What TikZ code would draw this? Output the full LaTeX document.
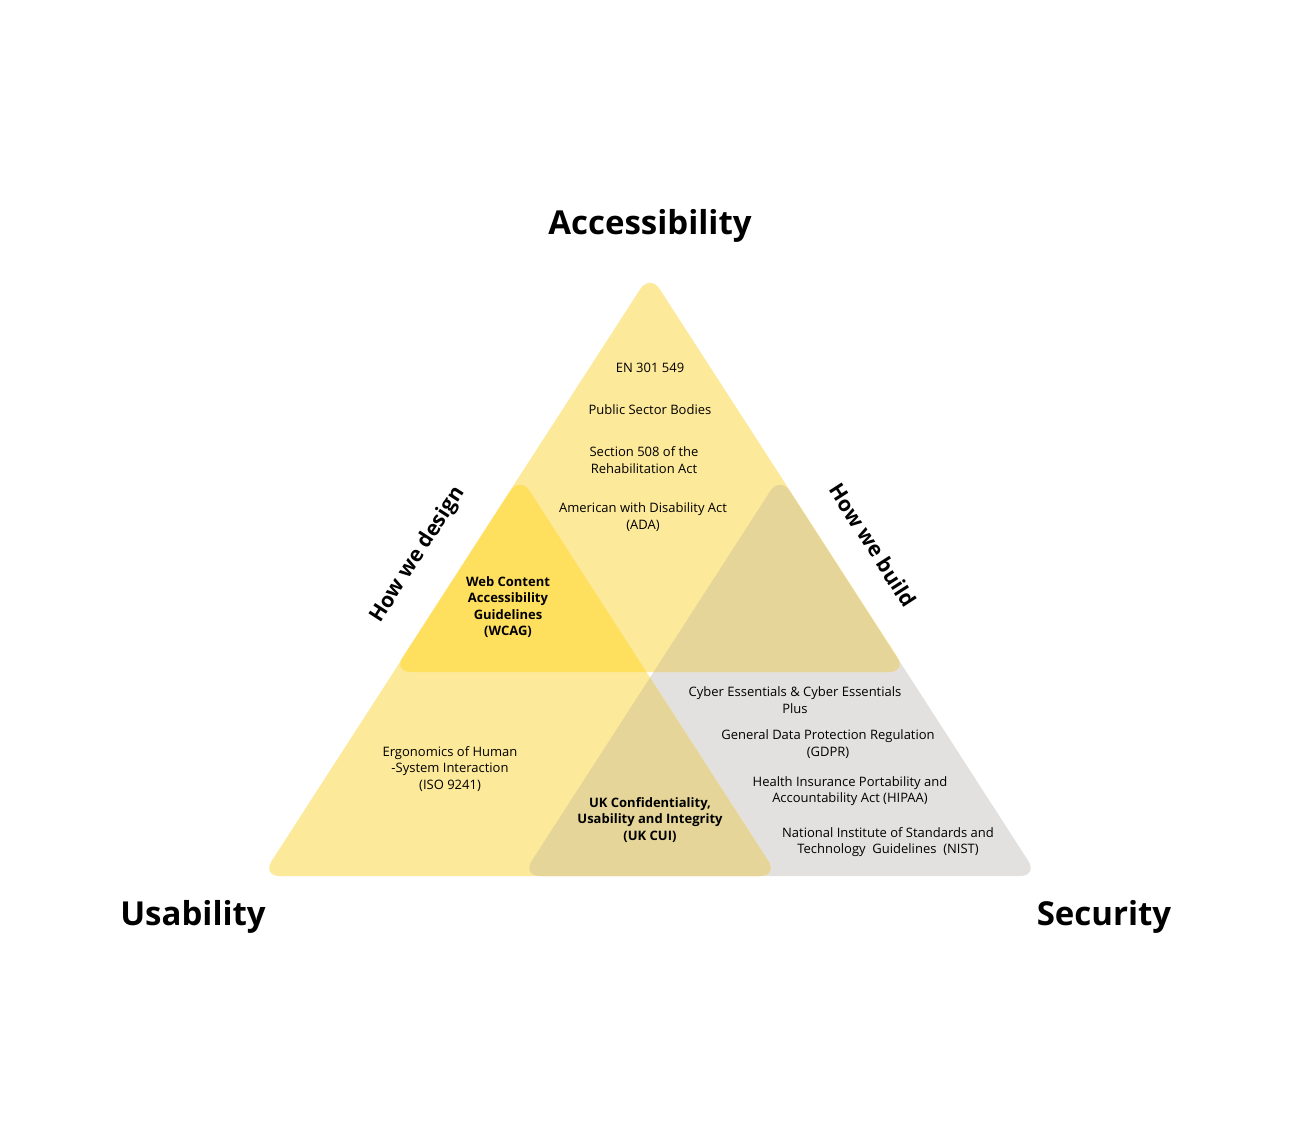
\documentclass[tikz,border=0pt]{standalone}
\usepackage{fontspec}
\setmainfont{Open Sans}
\begin{document}
\begin{tikzpicture}[x=1pt,y=-1pt,
  tri/.style={rounded corners=18pt},
  sm/.style={align=center,font=\fontsize{13}{16.5}\selectfont},
  smb/.style={sm,font=\fontsize{13}{16.5}\selectfont\bfseries},
  big/.style={font=\fontsize{33}{40}\selectfont\bfseries},
  side/.style={font=\fontsize{21}{26}\selectfont\bfseries}]
\useasboundingbox (0,0) rectangle (1300,1132);
\fill[white] (0,0) rectangle (1300,1132);
\definecolor{yel}{HTML}{FDE99A}
\definecolor{gry}{HTML}{E3E1DF}
\definecolor{brt}{HTML}{FFDF5E}
\definecolor{tan}{HTML}{E5D598}
\def\triA{(650,274) -- (907,672) -- (393,672) -- cycle}
\def\triU{(520,476) -- (778,876) -- (262,876) -- cycle}
\def\triS{(780,476) -- (1038,876) -- (522,876) -- cycle}
\fill[gry,tri] \triS;
\fill[yel,tri] \triU;
\fill[yel,tri] \triA;
\begin{scope}\clip[tri] \triA; \fill[brt,tri] \triU; \fill[tan,tri] \triS; \end{scope}
\begin{scope}\clip[tri] \triU; \fill[tan,tri] \triS; \end{scope}
\begin{scope}\clip[tri] \triA; \clip[tri] \triU; \fill[yel,tri] \triS; \end{scope}

\node[big] (acc) at (650,226) {Accessibility};
\node[big] (usa) at (193,917) {Usability};
\node[big] (sec) at (1104,917) {Security};
\node[side,rotate=57.2] (design) at (418,555) {How we design};
\node[side,rotate=-57.2] (build) at (873,545) {How we build};

\node[sm] (en) at (650,368) {EN 301 549};
\node[sm] (psb) at (650,410) {Public Sector Bodies};
\node[sm] (s508) at (644,460) {Section 508 of the\\Rehabilitation Act};
\node[sm] (ada) at (643,517) {American with Disability Act\\(ADA)};
\node[smb] (wcag) at (508,607) {Web Content\\Accessibility\\Guidelines\\(WCAG)};
\node[sm] (ce) at (795,700) {Cyber Essentials \& Cyber Essentials\\Plus};
\node[sm] (gdpr) at (828,744) {General Data Protection Regulation\\(GDPR)};
\node[sm] (hipaa) at (850,791) {Health Insurance Portability and\\Accountability Act (HIPAA)};
\node[sm] (nist) at (888,842) {National Institute of Standards and\\Technology\ \ Guidelines\ \ (NIST)};
\node[sm] (ergo) at (450,769) {Ergonomics of Human\\-System Interaction\\(ISO 9241)};
\node[smb] (cui) at (650,820) {UK Confidentiality,\\Usability and Integrity\\(UK CUI)};
\end{tikzpicture}
\end{document}
